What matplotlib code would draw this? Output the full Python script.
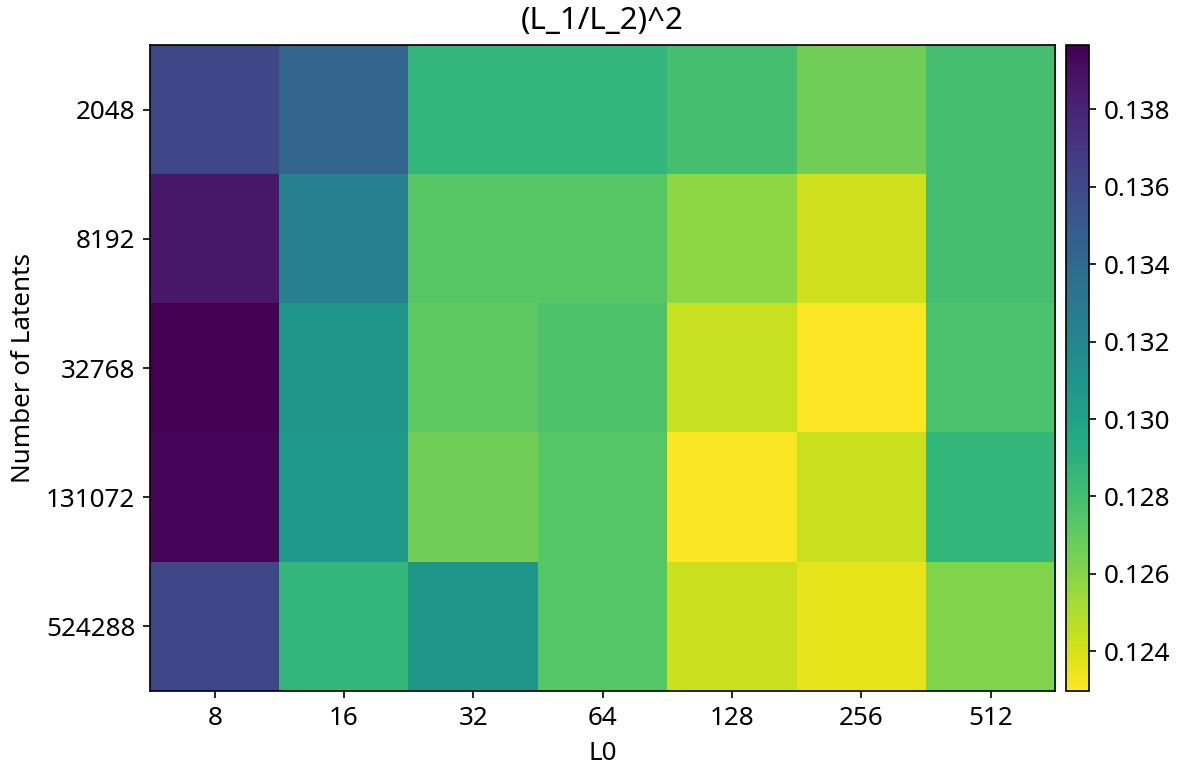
import numpy as np
import matplotlib
matplotlib.use('Agg')
import matplotlib.pyplot as plt

plt.rcParams['font.family'] = ['Noto Sans', 'DejaVu Sans']
plt.rcParams['font.size'] = 12.5

# Data
l0 = [8, 16, 32, 64, 128, 256, 512]
n_latents = [2048, 8192, 32768, 131072, 524288]

row_2048 = [0.1361, 0.1342, 0.1286, 0.1286, 0.1279, 0.1266, 0.1279]
row_8192 = [0.1386, 0.1323, 0.1273, 0.1273, 0.1258, 0.1242, 0.1279]
row_32768 = [0.13966, 0.1308, 0.1271, 0.1276, 0.1244, 0.12297, 0.1277]
row_131072 = [0.1394, 0.1306, 0.1266, 0.1274, 0.1231, 0.1243, 0.1286]
row_524288 = [0.1361, 0.1286, 0.1308, 0.1274, 0.1243, 0.1236, 0.1261]

vals = np.array([row_2048, row_8192, row_32768, row_131072, row_524288])

fig = plt.figure(figsize=(7.94, 5.2), dpi=150)
ax = fig.add_axes([0.126, 0.114, 0.760, 0.828])
cax = fig.add_axes([0.895, 0.114, 0.0193, 0.828])

im = ax.imshow(vals, cmap='viridis_r', aspect='auto')
fig.colorbar(im, cax=cax)

ax.set_xticks(range(len(l0)))
ax.set_xticklabels([str(x) for x in l0])
ax.set_yticks(range(len(n_latents)))
ax.set_yticklabels([str(n) for n in n_latents])
ax.set_xlabel('L0', labelpad=5)
ax.set_ylabel('Number of Latents', labelpad=5)
ax.set_title('(L_1/L_2)^2', pad=8)

plt.savefig('out.png', dpi=150)
